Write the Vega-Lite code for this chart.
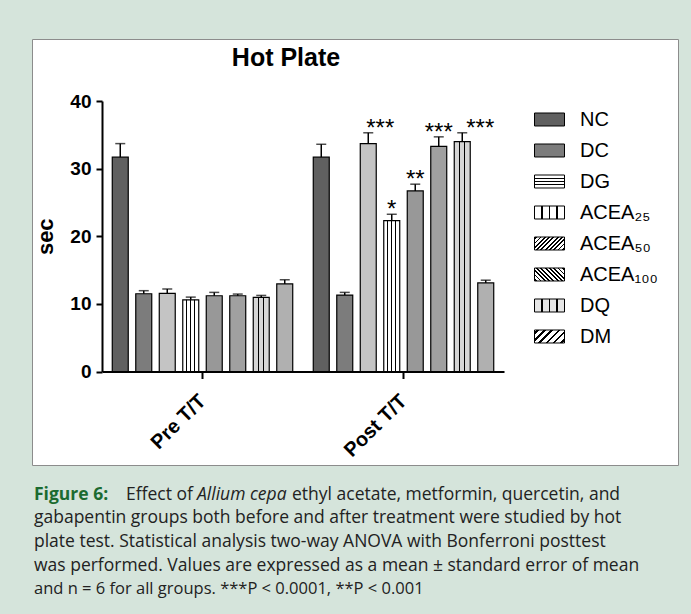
{
  "$schema": "https://vega.github.io/schema/vega-lite/v6.json",
  "background": "#d5e4db",
  "padding": {"left": 31, "top": 38, "right": 14, "bottom": 15},
  "autosize": {"type": "pad"},
  "spacing": 17,
  "config": {
    "font": "Liberation Sans",
    "axis": {"grid": false, "domainColor": "black", "domainWidth": 2, "tickColor": "black", "tickWidth": 2, "labelColor": "black", "labelFont": "Liberation Sans", "labelFontWeight": "bold", "titleFont": "Liberation Sans", "titleFontWeight": "bold", "titleColor": "black"}
  },
  "vconcat": [
    {
      "width": 646,
      "height": 426,
      "view": {"fill": "white", "stroke": "#8c8c8c", "strokeWidth": 1},
      "title": {"text": "Hot Plate", "fontSize": 25, "font": "Liberation Sans", "fontWeight": "bold", "color": "black", "anchor": "middle", "frame": "group", "dx": -69, "dy": 24, "offset": -28, "baseline": "alphabetic"},
      "data": {"values": [
        {"phase": "Pre T/T", "group": "NC", "mean": 31.7, "upper": 33.7, "star": null},
        {"phase": "Pre T/T", "group": "DC", "mean": 11.5, "upper": 11.95, "star": null},
        {"phase": "Pre T/T", "group": "DG", "mean": 11.55, "upper": 12.2, "star": null},
        {"phase": "Pre T/T", "group": "ACEA₂₅", "mean": 10.6, "upper": 11.0, "star": null},
        {"phase": "Pre T/T", "group": "ACEA₅₀", "mean": 11.2, "upper": 11.7, "star": null},
        {"phase": "Pre T/T", "group": "ACEA₁₀₀", "mean": 11.2, "upper": 11.45, "star": null},
        {"phase": "Pre T/T", "group": "DQ", "mean": 10.95, "upper": 11.25, "star": null},
        {"phase": "Pre T/T", "group": "DM", "mean": 12.95, "upper": 13.55, "star": null},
        {"phase": "Post T/T", "group": "NC", "mean": 31.7, "upper": 33.6, "star": null},
        {"phase": "Post T/T", "group": "DC", "mean": 11.3, "upper": 11.7, "star": null},
        {"phase": "Post T/T", "group": "DG", "mean": 33.7, "upper": 35.3, "star": "***"},
        {"phase": "Post T/T", "group": "ACEA₂₅", "mean": 22.3, "upper": 23.25, "star": "*"},
        {"phase": "Post T/T", "group": "ACEA₅₀", "mean": 26.7, "upper": 27.7, "star": "**"},
        {"phase": "Post T/T", "group": "ACEA₁₀₀", "mean": 33.3, "upper": 34.7, "star": "***"},
        {"phase": "Post T/T", "group": "DQ", "mean": 34.0, "upper": 35.3, "star": "***"},
        {"phase": "Post T/T", "group": "DM", "mean": 13.1, "upper": 13.5, "star": null}
      ]},
      "encoding": {
        "x": {"field": "phase", "type": "nominal", "sort": ["Pre T/T", "Post T/T"], "title": null,
              "scale": {"range": [70, 472], "paddingInner": 0, "paddingOuter": 0},
              "axis": {"title": null, "labelAngle": -45, "labelFontSize": 20, "offset": -93.5, "tickSize": 7, "labelPadding": 12, "labelOffset": -7}},
        "xOffset": {"field": "group", "type": "nominal", "sort": ["NC", "DC", "DG", "ACEA₂₅", "ACEA₅₀", "ACEA₁₀₀", "DQ", "DM"],
                    "scale": {"paddingInner": 0.32, "paddingOuter": 0.437}}
      },
      "layer": [
        {
          "mark": {"type": "bar", "stroke": "black", "strokeWidth": 1.2},
          "encoding": {
            "y": {"field": "mean", "type": "quantitative", "title": "sec",
                  "scale": {"domain": [0, 40], "range": [332.5, 62], "nice": false},
                  "axis": {"title": "sec", "values": [0, 10, 20, 30, 40], "offset": -70, "tickSize": 6, "labelFontSize": 19, "labelPadding": 5, "titleFontSize": 22, "titlePadding": 12}},
            "fill": {
              "condition": [
                {"test": "datum.group == 'ACEA₂₅'", "value": {"gradient": "linear", "x1": 0, "y1": 0, "x2": 1, "y2": 0, "stops": [
                   {"offset": 0, "color": "white"}, {"offset": 0.215, "color": "white"}, {"offset": 0.215, "color": "black"}, {"offset": 0.285, "color": "black"}, {"offset": 0.285, "color": "white"},
                   {"offset": 0.465, "color": "white"}, {"offset": 0.465, "color": "black"}, {"offset": 0.535, "color": "black"}, {"offset": 0.535, "color": "white"},
                   {"offset": 0.715, "color": "white"}, {"offset": 0.715, "color": "black"}, {"offset": 0.785, "color": "black"}, {"offset": 0.785, "color": "white"}, {"offset": 1, "color": "white"}]}},
                {"test": "datum.group == 'DQ'", "value": {"gradient": "linear", "x1": 0, "y1": 0, "x2": 1, "y2": 0, "stops": [
                   {"offset": 0, "color": "#d6d6d6"}, {"offset": 0.3, "color": "#d6d6d6"}, {"offset": 0.3, "color": "black"}, {"offset": 0.367, "color": "black"}, {"offset": 0.367, "color": "#d6d6d6"},
                   {"offset": 0.633, "color": "#d6d6d6"}, {"offset": 0.633, "color": "black"}, {"offset": 0.7, "color": "black"}, {"offset": 0.7, "color": "#d6d6d6"}, {"offset": 1, "color": "#d6d6d6"}]}},
                {"test": "datum.group == 'DG'", "value": "#c4c4c4"},
                {"test": "datum.group == 'ACEA₅₀'", "value": "#989898"},
                {"test": "datum.group == 'ACEA₁₀₀'", "value": "#a0a0a0"},
                {"test": "datum.group == 'DM'", "value": "#b0b0b0"}
              ],
              "field": "group", "type": "nominal", "sort": ["NC", "DC", "DG", "ACEA₂₅", "ACEA₅₀", "ACEA₁₀₀", "DQ", "DM"],
              "scale": {"domain": ["NC", "DC", "DG", "ACEA₂₅", "ACEA₅₀", "ACEA₁₀₀", "DQ", "DM"],
                        "range": [
                          "#606060",
                          "#7c7c7c",
                          {"expr": "{gradient:'linear',x1:0,y1:0,x2:0,y2:1,stops:[{offset:0,color:'#fff'},{offset:0.2,color:'#fff'},{offset:0.2,color:'#000'},{offset:0.3,color:'#000'},{offset:0.3,color:'#fff'},{offset:0.45,color:'#fff'},{offset:0.45,color:'#000'},{offset:0.55,color:'#000'},{offset:0.55,color:'#fff'},{offset:0.7,color:'#fff'},{offset:0.7,color:'#000'},{offset:0.8,color:'#000'},{offset:0.8,color:'#fff'},{offset:1,color:'#fff'}]}"},
                          {"expr": "{gradient:'linear',x1:0,y1:0,x2:1,y2:0,stops:[{offset:0,color:'#fff'},{offset:0.225,color:'#fff'},{offset:0.225,color:'#000'},{offset:0.275,color:'#000'},{offset:0.275,color:'#fff'},{offset:0.475,color:'#fff'},{offset:0.475,color:'#000'},{offset:0.525,color:'#000'},{offset:0.525,color:'#fff'},{offset:0.725,color:'#fff'},{offset:0.725,color:'#000'},{offset:0.775,color:'#000'},{offset:0.775,color:'#fff'},{offset:1,color:'#fff'}]}"},
                          {"expr": "{gradient:'linear',x1:0,y1:0,x2:1.207,y2:0.523,stops:[{offset:0,color:'#fff'},{offset:0.03,color:'#fff'},{offset:0.03,color:'#000'},{offset:0.07,color:'#000'},{offset:0.07,color:'#fff'},{offset:0.13,color:'#fff'},{offset:0.13,color:'#000'},{offset:0.17,color:'#000'},{offset:0.17,color:'#fff'},{offset:0.23,color:'#fff'},{offset:0.23,color:'#000'},{offset:0.27,color:'#000'},{offset:0.27,color:'#fff'},{offset:0.33,color:'#fff'},{offset:0.33,color:'#000'},{offset:0.37,color:'#000'},{offset:0.37,color:'#fff'},{offset:0.43,color:'#fff'},{offset:0.43,color:'#000'},{offset:0.47,color:'#000'},{offset:0.47,color:'#fff'},{offset:0.53,color:'#fff'},{offset:0.53,color:'#000'},{offset:0.57,color:'#000'},{offset:0.57,color:'#fff'},{offset:0.63,color:'#fff'},{offset:0.63,color:'#000'},{offset:0.67,color:'#000'},{offset:0.67,color:'#fff'},{offset:0.73,color:'#fff'},{offset:0.73,color:'#000'},{offset:0.77,color:'#000'},{offset:0.77,color:'#fff'},{offset:0.83,color:'#fff'},{offset:0.83,color:'#000'},{offset:0.87,color:'#000'},{offset:0.87,color:'#fff'},{offset:0.93,color:'#fff'},{offset:0.93,color:'#000'},{offset:0.97,color:'#000'},{offset:0.97,color:'#fff'},{offset:1,color:'#fff'}]}"},
                          {"expr": "{gradient:'linear',x1:0,y1:1,x2:1.207,y2:0.477,stops:[{offset:0,color:'#fff'},{offset:0.03,color:'#fff'},{offset:0.03,color:'#000'},{offset:0.07,color:'#000'},{offset:0.07,color:'#fff'},{offset:0.13,color:'#fff'},{offset:0.13,color:'#000'},{offset:0.17,color:'#000'},{offset:0.17,color:'#fff'},{offset:0.23,color:'#fff'},{offset:0.23,color:'#000'},{offset:0.27,color:'#000'},{offset:0.27,color:'#fff'},{offset:0.33,color:'#fff'},{offset:0.33,color:'#000'},{offset:0.37,color:'#000'},{offset:0.37,color:'#fff'},{offset:0.43,color:'#fff'},{offset:0.43,color:'#000'},{offset:0.47,color:'#000'},{offset:0.47,color:'#fff'},{offset:0.53,color:'#fff'},{offset:0.53,color:'#000'},{offset:0.57,color:'#000'},{offset:0.57,color:'#fff'},{offset:0.63,color:'#fff'},{offset:0.63,color:'#000'},{offset:0.67,color:'#000'},{offset:0.67,color:'#fff'},{offset:0.73,color:'#fff'},{offset:0.73,color:'#000'},{offset:0.77,color:'#000'},{offset:0.77,color:'#fff'},{offset:0.83,color:'#fff'},{offset:0.83,color:'#000'},{offset:0.87,color:'#000'},{offset:0.87,color:'#fff'},{offset:0.93,color:'#fff'},{offset:0.93,color:'#000'},{offset:0.97,color:'#000'},{offset:0.97,color:'#fff'},{offset:1,color:'#fff'}]}"},
                          {"expr": "{gradient:'linear',x1:0,y1:0,x2:1,y2:0,stops:[{offset:0,color:'#e6e6e6'},{offset:0.225,color:'#e6e6e6'},{offset:0.225,color:'#000'},{offset:0.275,color:'#000'},{offset:0.275,color:'#e6e6e6'},{offset:0.475,color:'#e6e6e6'},{offset:0.475,color:'#000'},{offset:0.525,color:'#000'},{offset:0.525,color:'#e6e6e6'},{offset:0.725,color:'#e6e6e6'},{offset:0.725,color:'#000'},{offset:0.775,color:'#000'},{offset:0.775,color:'#e6e6e6'},{offset:1,color:'#e6e6e6'}]}"},
                          {"expr": "{gradient:'linear',x1:0,y1:0,x2:1.207,y2:0.523,stops:[{offset:0,color:'#fff'},{offset:0.05,color:'#fff'},{offset:0.05,color:'#000'},{offset:0.11,color:'#000'},{offset:0.11,color:'#fff'},{offset:0.217,color:'#fff'},{offset:0.217,color:'#000'},{offset:0.277,color:'#000'},{offset:0.277,color:'#fff'},{offset:0.383,color:'#fff'},{offset:0.383,color:'#000'},{offset:0.443,color:'#000'},{offset:0.443,color:'#fff'},{offset:0.55,color:'#fff'},{offset:0.55,color:'#000'},{offset:0.61,color:'#000'},{offset:0.61,color:'#fff'},{offset:0.717,color:'#fff'},{offset:0.717,color:'#000'},{offset:0.777,color:'#000'},{offset:0.777,color:'#fff'},{offset:0.883,color:'#fff'},{offset:0.883,color:'#000'},{offset:0.943,color:'#000'},{offset:0.943,color:'#fff'},{offset:1,color:'#fff'}]}"}
                        ]},
              "legend": {"title": null, "orient": "none", "legendX": 502, "legendY": 65, "symbolType": "M-1,-0.433H1V0.433H-1Z", "symbolSize": 900, "symbolStrokeColor": "black", "symbolStrokeWidth": 1, "symbolOpacity": 1, "labelFont": "Liberation Sans", "labelFontSize": 20, "labelColor": "black", "labelOffset": 15, "rowPadding": 5}
            }
          }
        },
        {
          "mark": {"type": "rule", "strokeWidth": 1.5, "color": "black"},
          "encoding": {
            "y": {"field": "mean", "type": "quantitative", "title": "sec"},
            "y2": {"field": "upper"}
          }
        },
        {
          "mark": {"type": "tick", "color": "black", "thickness": 1.5, "size": 10},
          "encoding": {"y": {"field": "upper", "type": "quantitative", "title": "sec"}}
        },
        {
          "transform": [{"filter": "datum.star != null && datum.group != 'DG' && datum.group != 'DQ'"}],
          "mark": {"type": "text", "fontSize": 24, "font": "Liberation Sans", "baseline": "alphabetic", "color": "black", "dy": 3},
          "encoding": {"y": {"field": "upper", "type": "quantitative", "title": "sec"}, "text": {"field": "star"}}
        },
        {
          "transform": [{"filter": "datum.group == 'DG' && datum.star != null"}],
          "mark": {"type": "text", "fontSize": 24, "font": "Liberation Sans", "baseline": "alphabetic", "color": "black", "dy": 3, "dx": 12},
          "encoding": {"y": {"field": "upper", "type": "quantitative", "title": "sec"}, "text": {"field": "star"}}
        },
        {
          "transform": [{"filter": "datum.group == 'DQ' && datum.star != null"}],
          "mark": {"type": "text", "fontSize": 24, "font": "Liberation Sans", "baseline": "alphabetic", "color": "black", "dy": 3, "dx": 18},
          "encoding": {"y": {"field": "upper", "type": "quantitative", "title": "sec"}, "text": {"field": "star"}}
        }
      ]
    },
    {
      "width": 646,
      "height": 118,
      "view": {"fill": null, "stroke": null},
      "data": {"values": [
        {"line": 1, "seg": "fig", "text": "Figure 6:"},
        {"line": 1, "seg": "a", "text": "Effect of"},
        {"line": 1, "seg": "it", "text": "Allium cepa"},
        {"line": 1, "seg": "b", "text": "ethyl acetate, metformin, quercetin, and"},
        {"line": 2, "seg": "full", "text": "gabapentin groups both before and after treatment were studied by hot"},
        {"line": 3, "seg": "full", "text": "plate test. Statistical analysis two-way ANOVA with Bonferroni posttest"},
        {"line": 4, "seg": "full", "text": "was performed. Values are expressed as a mean ± standard error of mean"},
        {"line": 5, "seg": "last", "text": "and n = 6 for all groups. ***P < 0.0001, **P < 0.001"}
      ]},
      "encoding": {
        "y": {"field": "line", "type": "ordinal", "axis": null, "scale": {"paddingInner": 0, "paddingOuter": 0}},
        "x": {"value": 0},
        "text": {"field": "text"}
      },
      "layer": [
        {"transform": [{"filter": "datum.seg == 'fig'"}],
         "mark": {"type": "text", "align": "left", "baseline": "middle", "dx": 2, "font": "Open Sans", "fontSize": 17.5, "fontWeight": "bold", "color": "#1b6b30"}},
        {"transform": [{"filter": "datum.seg == 'a'"}],
         "mark": {"type": "text", "align": "left", "baseline": "middle", "dx": 94, "font": "Open Sans", "fontSize": 17.5, "color": "#222222"}},
        {"transform": [{"filter": "datum.seg == 'it'"}],
         "mark": {"type": "text", "align": "left", "baseline": "middle", "dx": 165, "font": "Open Sans", "fontSize": 17.5, "fontStyle": "italic", "color": "#222222"}},
        {"transform": [{"filter": "datum.seg == 'b'"}],
         "mark": {"type": "text", "align": "left", "baseline": "middle", "dx": 260, "font": "Open Sans", "fontSize": 17.5, "color": "#222222"}},
        {"transform": [{"filter": "datum.seg == 'full'"}],
         "mark": {"type": "text", "align": "left", "baseline": "middle", "dx": 2, "font": "Open Sans", "fontSize": 17.5, "color": "#222222"}},
        {"transform": [{"filter": "datum.seg == 'last'"}],
         "mark": {"type": "text", "align": "left", "baseline": "middle", "dx": 2, "font": "Open Sans", "fontSize": 16.5, "color": "#222222"}}
      ]
    }
  ]
}
